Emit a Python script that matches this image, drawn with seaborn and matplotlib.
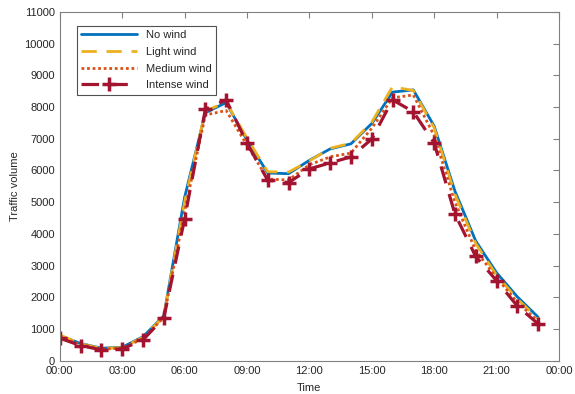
import numpy as np
import pandas as pd
import seaborn as sns
import matplotlib.pyplot as plt
from matplotlib.ticker import FuncFormatter

hours = list(range(24))

no_wind = [790, 550, 400, 430, 760, 1420, 5150, 7820, 8140, 6960, 5920, 5900,
           6320, 6680, 6840, 7480, 8470, 8540, 7400, 5350, 3780, 2780, 2020, 1380]
light_wind = [820, 540, 390, 420, 740, 1400, 5000, 7880, 8150, 7020, 5960, 5950,
              6300, 6700, 6860, 7520, 8640, 8520, 7350, 5250, 3700, 2700, 1950, 1330]
medium_wind = [760, 510, 370, 400, 700, 1370, 4700, 7750, 7890, 6800, 5730, 5700,
               6180, 6430, 6550, 7330, 8290, 8380, 7100, 5000, 3480, 2620, 1850, 1250]
intense_wind = [715, 483, 347, 378, 662, 1355, 4475, 7930, 8225, 6860, 5690, 5620,
                6050, 6240, 6430, 6990, 8226, 7850, 6870, 4630, 3290, 2530, 1730, 1170]

series_names = ['No wind', 'Light wind', 'Medium wind', 'Intense wind']

sns.set_style('white')
plt.rcParams['font.family'] = ['Liberation Sans', 'DejaVu Sans']
plt.rcParams['font.size'] = 8

fig = plt.figure(figsize=(5.75, 3.94), dpi=100)
ax = fig.add_axes([0.104, 0.084, 0.868, 0.886])

# MATLAB-like colours and line styles
styles = {
    'No wind': dict(color='#0072BD', linestyle='-', linewidth=2.0),
    'Light wind': dict(color='#EDB120', linestyle=(0, (5.5, 3.5)), linewidth=2.0),
    'Medium wind': dict(color='#D95319', linestyle=(0, (1, 1)), linewidth=2.0),
    'Intense wind': dict(color='#A2142F', linestyle=(0, (5.5, 3.5)), linewidth=2.3),
}

data = {'No wind': no_wind, 'Light wind': light_wind,
        'Medium wind': medium_wind, 'Intense wind': intense_wind}

for name in series_names:
    df = pd.DataFrame({'hour': hours, 'volume': data[name]})
    st = styles[name]
    sns.lineplot(data=df, x='hour', y='volume', ax=ax, color=st['color'],
                 linewidth=st['linewidth'], label=name)
    ax.lines[-1].set_linestyle(st['linestyle'])

# '+' markers on the intense wind line (seaborn uses white edges by default)
intense_line = ax.lines[-1]
intense_line.set_marker('+')
intense_line.set_markersize(10)
intense_line.set_markeredgewidth(2.5)
intense_line.set_markeredgecolor(styles['Intense wind']['color'])

ax.set_xlim(0, 24)
ax.set_ylim(0, 11000)
ax.set_xticks(range(0, 25, 3))
ax.xaxis.set_major_formatter(FuncFormatter(lambda v, p: '%02d:00' % (int(v) % 24)))
ax.set_yticks(range(0, 11001, 1000))

axis_col = '#262626'
for sp in ax.spines.values():
    sp.set_visible(True)
    sp.set_color('#808080')
    sp.set_linewidth(0.8)
ax.tick_params(direction='in', top=True, right=True, length=4, width=0.8,
               colors='#808080', labelcolor=axis_col, labelsize=8)

ax.set_xlabel('Time', fontsize=8, color=axis_col, labelpad=5)
ax.set_ylabel('Traffic volume', fontsize=8, color=axis_col, labelpad=3)

leg = ax.legend(loc='upper left', bbox_to_anchor=(0.034, 0.96), borderaxespad=0,
                frameon=True, fancybox=False, edgecolor='#262626', fontsize=8,
                handlelength=5.0, borderpad=0.4, labelspacing=0.6)
leg.get_frame().set_linewidth(0.8)
for h in leg.legend_handles:
    h.set_markevery([1])

fig.savefig('out.png', dpi=100)
